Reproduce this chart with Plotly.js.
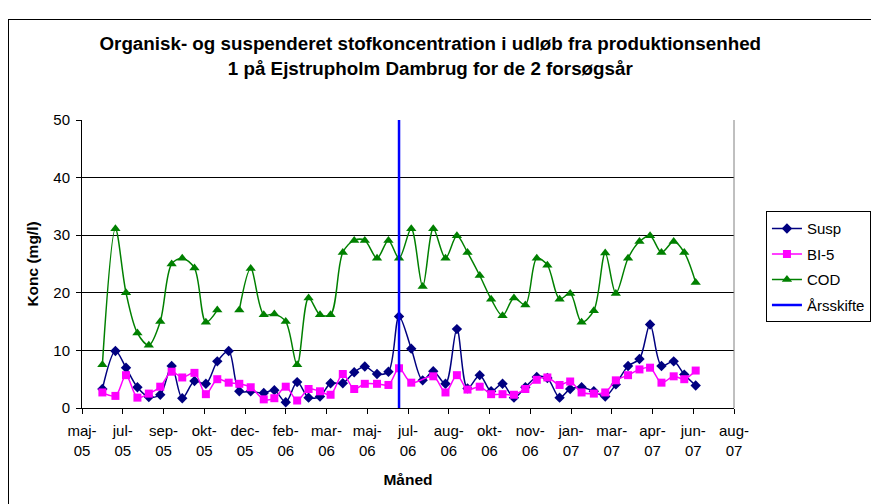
<!DOCTYPE html>
<html><head><meta charset="utf-8">
<script src="https://cdn.plot.ly/plotly-3.0.1.min.js"></script>
<style>
html,body{margin:0;padding:0;background:#fff;overflow:hidden;width:871px;height:504px}
#chart{position:absolute;left:0;top:0;width:871px;height:504px}
#frame{position:absolute;left:8px;top:19px;width:1000px;height:1000px;border-left:1px solid #000;border-top:1px solid #000;pointer-events:none}
</style></head><body>
<div id="frame"></div>
<div id="chart"></div>
<script>
const sampleDates = [
 '2005-06-22','2005-07-08','2005-07-21','2005-08-04','2005-08-18','2005-09-01','2005-09-15','2005-09-28',
 '2005-10-13','2005-10-27','2005-11-10','2005-11-24','2005-12-07','2005-12-21','2006-01-06','2006-01-19',
 '2006-02-02','2006-02-16','2006-03-02','2006-03-16','2006-03-29','2006-04-13','2006-04-27','2006-05-10',
 '2006-05-25','2006-06-08','2006-06-21','2006-07-06','2006-07-20','2006-08-02','2006-08-17','2006-08-31',
 '2006-09-13','2006-09-28','2006-10-12','2006-10-26','2006-11-09','2006-11-23','2006-12-07','2006-12-20',
 '2007-01-04','2007-01-17','2007-01-31','2007-02-15','2007-03-01','2007-03-14','2007-03-29','2007-04-12',
 '2007-04-25','2007-05-09','2007-05-24','2007-06-06','2007-06-20'];
const susp = [3.3,9.9,7.0,3.6,1.9,2.3,7.3,1.7,4.7,4.2,8.1,9.9,2.9,2.9,2.6,3.1,1.0,4.5,1.8,2.0,4.3,4.3,6.2,7.2,5.9,6.3,15.9,
 10.3,4.8,6.4,4.2,13.7,3.4,5.7,2.9,4.2,1.8,3.6,5.4,5.2,1.8,3.3,3.6,2.9,2.0,4.1,7.3,8.5,14.5,7.3,8.1,5.8,3.9];
const bi5 = [2.7,2.1,5.7,1.8,2.5,3.7,6.3,5.3,6.1,2.4,5.0,4.4,4.2,3.6,1.5,1.7,3.7,1.3,3.3,2.9,2.3,5.9,3.3,4.2,4.2,4.0,6.9,
 4.4,null,5.5,2.7,5.7,3.2,3.7,2.4,2.4,2.3,3.3,4.9,5.3,4.0,4.6,2.7,2.5,2.7,4.8,5.7,6.7,7.0,4.4,5.5,5.0,6.5];
const cod = [7.5,31.1,20.0,13.0,10.9,15.0,25.0,26.0,24.3,14.9,17.0,null,17.0,24.2,16.2,16.3,15.0,7.5,19.1,16.2,16.2,27.0,29.1,29.1,26.0,29.1,26.0,
 31.1,21.1,31.1,26.0,29.9,27.0,23.0,18.9,16.0,19.1,17.9,26.0,24.8,18.9,19.9,14.9,16.9,26.9,19.9,26.0,28.9,29.9,27.0,28.9,27.0,21.8];
const yearChangeX = ['2006-06-21','2006-06-21'];
const yearChangeY = [0,50];
const tickDates = ['2005-05-28','2005-07-17','2005-09-05','2005-10-25','2005-12-14','2006-02-02','2006-03-24','2006-05-13',
 '2006-07-02','2006-08-21','2006-10-10','2006-11-29','2007-01-18','2007-03-09','2007-04-28','2007-06-17','2007-08-06'];
const tickLabels = ['maj-<br>05','jul-<br>05','sep-<br>05','okt-<br>05','dec-<br>05','feb-<br>06','mar-<br>06','maj-<br>06',
 'jul-<br>06','aug-<br>06','okt-<br>06','nov-<br>06','jan-<br>07','mar-<br>07','apr-<br>07','jun-<br>07','aug-<br>07'];
const yTicks = [0,10,20,30,40,50];

const FONT = 'Liberation Sans, Arial, sans-serif';
const traces = [
 {x: sampleDates, y: susp, name: 'Susp', type: 'scatter', mode: 'lines+markers', legendgroup: 'a',
  line: {color: '#000080', width: 1.5, shape: 'spline', smoothing: 0.9},
  marker: {symbol: 'diamond', size: 8, color: '#000080'}},
 {x: sampleDates, y: bi5, name: 'BI-5', type: 'scatter', mode: 'lines+markers', legendgroup: 'b', connectgaps: true,
  line: {color: '#FF00FF', width: 1.5, shape: 'spline', smoothing: 0.9},
  marker: {symbol: 'square', size: 8, color: '#FF00FF'}},
 {x: sampleDates, y: cod, name: 'COD', type: 'scatter', mode: 'lines+markers', legendgroup: 'c', connectgaps: false,
  line: {color: '#008000', width: 1.5, shape: 'spline', smoothing: 0.9},
  marker: {symbol: 'triangle-up', size: 9, color: '#008000'}},
 {x: yearChangeX, y: yearChangeY, name: 'Årsskifte', type: 'scatter', mode: 'lines', legendgroup: 'd',
  line: {color: '#0000FF', width: 2.5}}
];
const layout = {
 width: 871, height: 504,
 paper_bgcolor: 'rgba(0,0,0,0)', plot_bgcolor: '#fff',
 font: {family: FONT, size: 15, color: '#000'},
 margin: {l: 82, r: 137, t: 120, b: 96, autoexpand: false},
 title: {text: 'Organisk- og suspenderet stofkoncentration i udløb fra produktionsenhed<br>1 på Ejstrupholm Dambrug for de 2 forsøgsår',
  font: {family: FONT, size: 18.8, weight: 'bold', color: '#000'},
  xref: 'container', x: 0.494, xanchor: 'center', yref: 'container', y: 0.9, yanchor: 'top'},
 xaxis: {type: 'date', range: ['2005-05-28','2007-08-06'], tickmode: 'array', tickvals: tickDates, ticktext: tickLabels,
  ticks: 'outside', ticklen: 5, tickcolor: '#000', showline: true, linecolor: '#000', linewidth: 1,
  showgrid: false, zeroline: false, tickfont: {size: 15}, ticklabelstandoff: 4,
  title: {text: 'Måned', font: {size: 15.5, weight: 'bold'}, standoff: 16}},
 yaxis: {range: [0, 50], tickmode: 'array', tickvals: yTicks, ticks: 'outside', ticklen: 5, tickcolor: '#000',
  showline: true, linecolor: '#000', linewidth: 1, showgrid: true, gridcolor: '#000', gridwidth: 1, zeroline: false,
  tickfont: {size: 15}, ticklabelstandoff: 3,
  title: {text: 'Konc (mg/l)', font: {size: 15.5, weight: 'bold'}, standoff: 10}},
 legend: {x: 1.049, y: 0.683, xanchor: 'left', yanchor: 'top', bgcolor: '#fff', bordercolor: '#000', borderwidth: 1,
  font: {size: 15}, tracegroupgap: 3, traceorder: 'grouped', itemwidth: 30},
 shapes: [{type: 'line', xref: 'paper', yref: 'paper', x0: 1, x1: 1, y0: 0, y1: 1, line: {color: '#808080', width: 1}}],
 showlegend: true
};
Plotly.newPlot('chart', traces, layout, {displayModeBar: false, staticPlot: true});
</script>
</body></html>
